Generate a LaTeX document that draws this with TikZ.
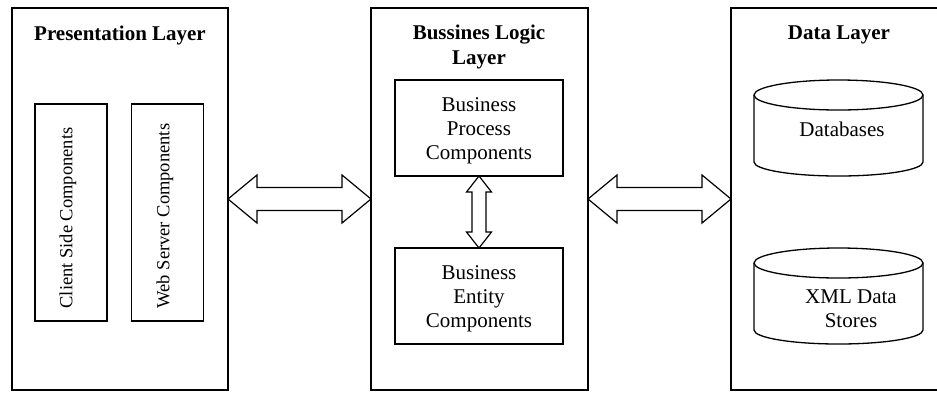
\documentclass[tikz,border=0pt]{standalone}
\usepackage{fontspec}
\setmainfont{Liberation Serif}
\usetikzlibrary{calc}
\begin{document}
\begin{tikzpicture}[x=1pt,y=1pt,
  every node/.style={inner sep=0, outer sep=0},
  panel/.style={draw, line width=1.3pt, minimum height=382},
  openpanel/.style={minimum height=382},
  panelline/.style={draw, line width=1.3pt, line join=miter},
  layertitle/.style={font=\fontsize{21}{25}\selectfont\bfseries, align=center},
  bodytext/.style={font=\fontsize{21}{24}\selectfont, align=center},
  compbox/.style={draw, line width=1.3pt, minimum width=168, minimum height=96},
  vertbox/.style={draw, line width=1.3pt, minimum width=72, minimum height=217},
  verttext/.style={rotate=90, font=\fontsize{18.5}{22}\selectfont},
  cylbody/.style={minimum width=169, minimum height=96},
  cylline/.style={draw, line width=1.3pt},
  fatarrow/.style={draw, line width=1.2pt, fill=white, line join=miter}]

\useasboundingbox (0,0) rectangle (937,-392);
\clip (0,0) rectangle (937,-392);

% layer panels (the data layer is open to the right edge)
\node[panel, minimum width=216] (pres)  at (120,-199)   {};
\node[panel, minimum width=217] (logic) at (479.5,-199) {};
\node[openpanel, minimum width=240] (data) at (851,-199) {};
\draw[panelline] ($(data.north east)+(10,0)$) -- (data.north west)
  -- (data.south west) -- ($(data.south east)+(10,0)$);

% titles
\node[layertitle] (prestitle)  at (120,-35)  {Presentation Layer};
\node[layertitle] (logictitle) at (479,-47)  {Bussines Logic\\Layer};
\node[layertitle] (datatitle)  at (839,-35)  {Data Layer};

% presentation components
\node[vertbox] (client) at (71,-212.5)    {};
\node[vertbox] (web)    at (167.5,-212.5) {};
\node[verttext] (clienttext) at (68,-218)  {Client Side Components};
\node[verttext] (webtext)    at (165,-216) {Web Server Components};

% business logic components
\node[compbox] (proc) at (479,-128) {};
\node[compbox] (ent)  at (479,-296) {};
\node[bodytext] (proctext) at (479,-131) {Business\\Process\\Components};
\node[bodytext] (enttext)  at (479,-299) {Business\\Entity\\Components};

% data stores
\node[cylbody] (db)  at (838.5,-128) {};
\node[cylbody] (xml) at (838.5,-296) {};
\node[bodytext] (dbtext)  at (842,-129) {Databases};
\node[bodytext] (xmltext) at (851,-309) {XML Data\\Stores};
\foreach \c in {db,xml}{
  \draw[cylline] ($(\c.north)+(0,-15)$) ellipse [x radius=84.5, y radius=15];
  \draw[cylline] ($(\c.north west)+(0,-15)$) -- ($(\c.south west)+(0,14)$)
    arc[start angle=180, end angle=360, x radius=84.5, y radius=14]
    -- ($(\c.north east)+(0,-15)$);
}

% two-way arrows between layers
\draw[fatarrow] (pres.east) -- ++(29,24) -- ++(0,-12.5)
  -- ($(logic.west)+(-29,11.5)$) -- ++(0,12.5) -- (logic.west)
  -- ++(-29,-24) -- ++(0,12.5) -- ($(pres.east)+(29,-11.5)$) -- ++(0,-12.5) -- cycle;
\draw[fatarrow] (logic.east) -- ++(29,24) -- ++(0,-12.5)
  -- ($(data.west)+(-29,11.5)$) -- ++(0,12.5) -- (data.west)
  -- ++(-29,-24) -- ++(0,12.5) -- ($(logic.east)+(29,-11.5)$) -- ++(0,-12.5) -- cycle;

% two-way arrow between process and entity components
\draw[fatarrow] (proc.south) -- ++(12.5,-16) -- ++(-5.5,0)
  -- ($(ent.north)+(7,16)$) -- ++(5.5,0) -- (ent.north)
  -- ++(-12.5,16) -- ++(5.5,0) -- ($(proc.south)+(-7,-16)$) -- ++(-5.5,0) -- cycle;
\end{tikzpicture}
\end{document}
